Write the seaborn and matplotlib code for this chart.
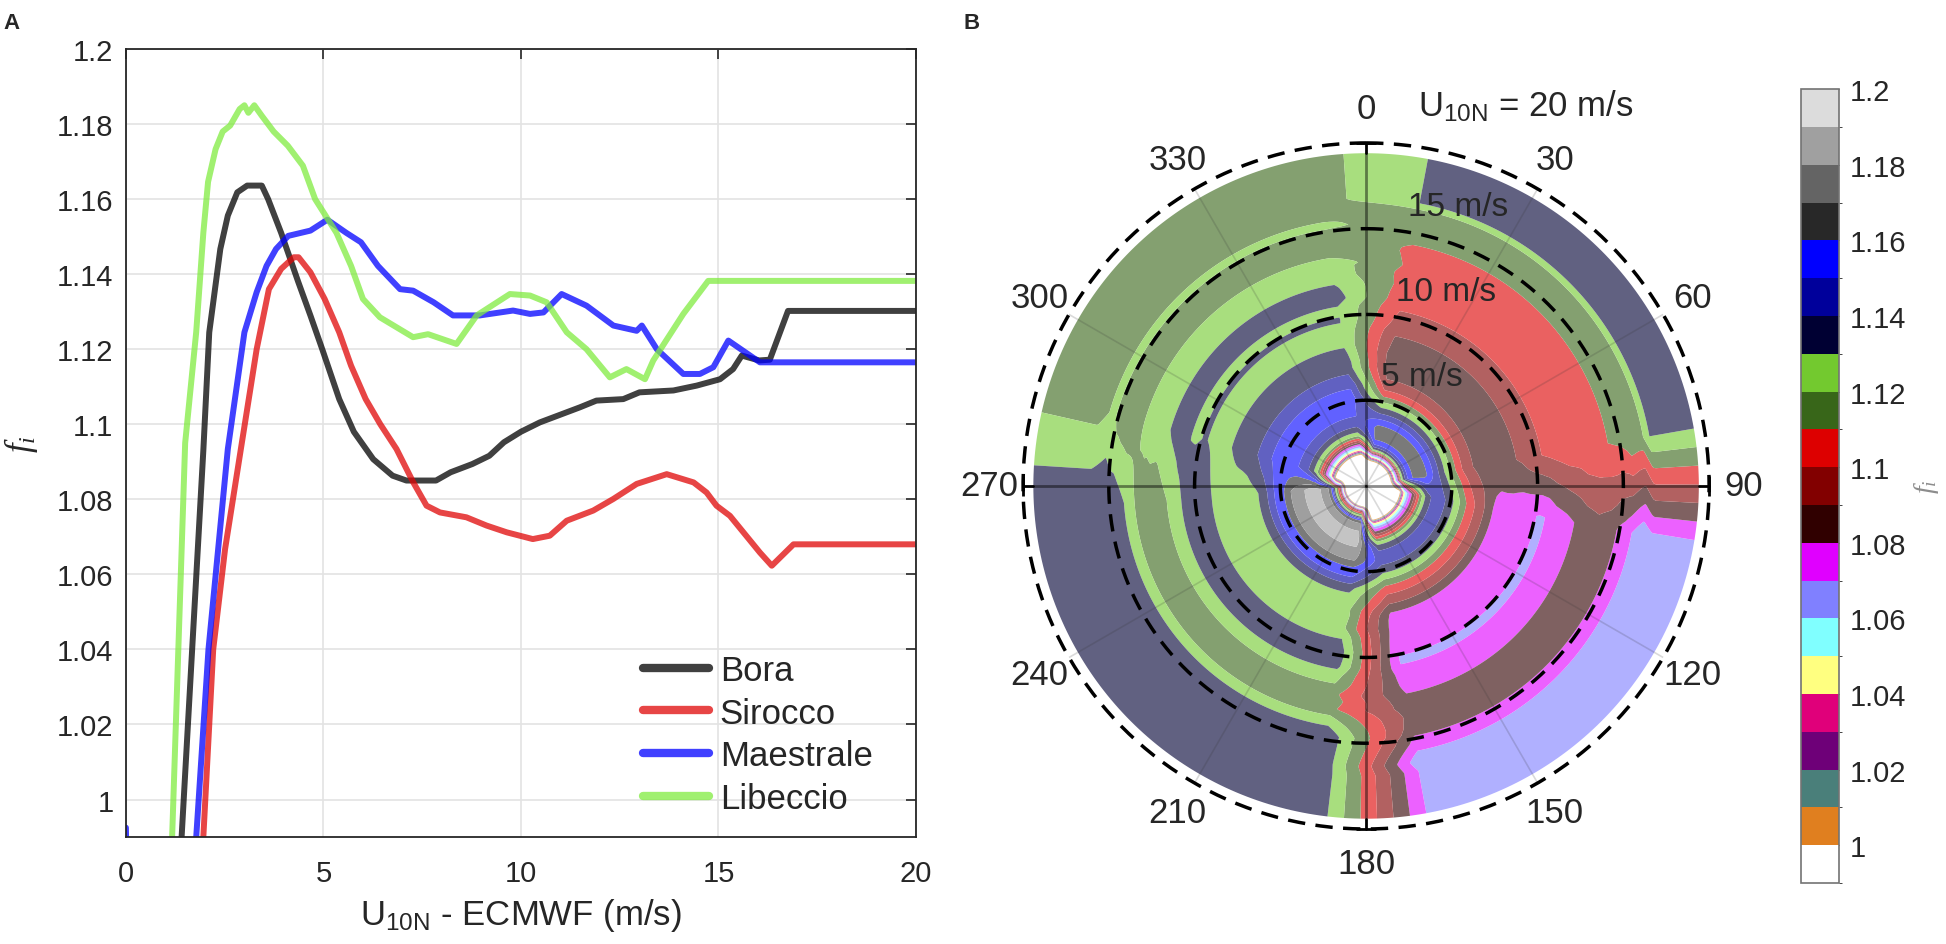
import numpy as np
import pandas as pd
import seaborn as sns
import matplotlib.pyplot as plt
from matplotlib.colors import ListedColormap, BoundaryNorm, to_rgb
from matplotlib.cm import ScalarMappable
from matplotlib.ticker import FuncFormatter

# ---- panel A: f_i against U10N for the four wind regimes
bora_u = [0.0, 1.41, 1.96, 2.11, 2.39, 2.58, 2.82, 3.07, 3.44, 3.6, 3.93, 4.36, 4.67, 4.97,
          5.4, 5.77, 6.26, 6.75, 7.1, 7.85, 8.22, 8.77, 9.2, 9.57, 10.0, 10.48, 11.49, 11.91,
          12.59, 13.0, 13.86, 14.45, 15.04, 15.37, 15.59, 16.03, 16.3, 16.76, 20.0]
bora_f = [0.94, 0.99, 1.093, 1.1245, 1.1467, 1.1556, 1.1618, 1.1636, 1.1636, 1.16, 1.151, 1.138,
          1.129, 1.12, 1.1067, 1.098, 1.0907, 1.0863, 1.085, 1.085, 1.0872, 1.0894, 1.0916,
          1.0952, 1.098, 1.1005, 1.1045, 1.1063, 1.1067, 1.1085, 1.109, 1.1103, 1.112, 1.1147,
          1.1183, 1.117, 1.1172, 1.1302, 1.1302]

sirocco_u = [0.0, 1.96, 2.21, 2.51, 2.91, 3.31, 3.62, 3.93, 4.25, 4.37, 4.67, 5.03, 5.4, 5.7,
             6.07, 6.44, 6.85, 7.27, 7.61, 7.95, 8.62, 9.13, 9.64, 10.3, 10.73, 11.16, 11.83,
             12.34, 12.93, 13.69, 14.37, 14.7, 14.95, 15.29, 16.05, 16.35, 16.9, 20.0]
sirocco_f = [0.93, 0.99, 1.04, 1.0667, 1.0934, 1.12, 1.136, 1.1414, 1.1445, 1.1445, 1.1405,
             1.1334, 1.1245, 1.1156, 1.1067, 1.1, 1.0934, 1.0846, 1.0783, 1.0765, 1.0752, 1.073,
             1.0712, 1.0694, 1.0703, 1.0743, 1.077, 1.0801, 1.0841, 1.0867, 1.0845, 1.0818,
             1.0783, 1.0756, 1.0658, 1.0623, 1.068, 1.068]

maestrale_u = [0.0, 0.1, 1.78, 2.09, 2.58, 3.0, 3.31, 3.56, 3.8, 4.11, 4.67, 5.1, 5.58, 5.95,
               6.38, 6.94, 7.27, 7.79, 8.28, 8.96, 9.8, 10.23, 10.57, 11.03, 11.66, 12.34, 12.93,
               13.06, 13.44, 14.11, 14.53, 14.87, 15.25, 16.05, 20.0]
maestrale_f = [0.9925, 0.93, 0.99, 1.04, 1.0934, 1.1245, 1.1352, 1.1422, 1.1467, 1.1502, 1.1516,
               1.1545, 1.151, 1.1485, 1.1422, 1.136, 1.1356, 1.1325, 1.129, 1.129, 1.1303, 1.1294,
               1.1298, 1.1347, 1.1316, 1.1263, 1.1249, 1.1263, 1.12, 1.1134, 1.1134, 1.1152,
               1.1223, 1.1165, 1.1165]

libeccio_u = [0.0, 1.17, 1.5, 1.78, 1.96, 2.08, 2.27, 2.45, 2.64, 2.88, 3.0, 3.1, 3.25, 3.44,
              3.74, 4.1, 4.48, 4.79, 5.33, 5.7, 6.0, 6.43, 7.27, 7.65, 8.37, 8.88, 9.13, 9.72,
              10.23, 10.65, 11.16, 11.66, 12.25, 12.67, 13.14, 13.35, 14.11, 14.74, 20.0]
libeccio_f = [0.94, 0.99, 1.095, 1.1246, 1.151, 1.1646, 1.1733, 1.178, 1.1796, 1.184, 1.185,
              1.183, 1.185, 1.1822, 1.178, 1.1742, 1.1689, 1.16, 1.151, 1.1422, 1.1334, 1.1285,
              1.1232, 1.124, 1.1214, 1.129, 1.1307, 1.1347, 1.1343, 1.1325, 1.1245, 1.12, 1.1125,
              1.1147, 1.112, 1.117, 1.1294, 1.1382, 1.1382]

winds = ["Bora", "Sirocco", "Maestrale", "Libeccio"]
curves = {"Bora": (bora_u, bora_f), "Sirocco": (sirocco_u, sirocco_f),
          "Maestrale": (maestrale_u, maestrale_f), "Libeccio": (libeccio_u, libeccio_f)}
line_colors = ["#000000", "#e00707", "#0000ff", "#80eb40"]

# ---- panel B: direction sectors of each regime (clockwise from north, degrees)
sector_winds = ["Bora", "Sirocco", "Libeccio", "Maestrale"]
sector_edges = [1, 90, 179, 276]
blend_half = 10
speed_rings = [5, 10, 15, 20]
dir_labels = list(range(0, 360, 30))

levels = np.round(np.arange(0.99, 1.2001, 0.01), 2)
level_colors = ['#ffffff', '#e07f1f', '#4a7f7a', '#6e0078', '#e0007a', '#ffff80', '#80ffff',
                '#8080ff', '#e000ff', '#300000', '#820000', '#dd0000', '#386619', '#73c92f',
                '#000033', '#00009b', '#0000ff', '#282828', '#646464', '#a0a0a0', '#dcdcdc']
fill_alpha = 0.62

sns.set_style("white")
plt.rcParams['font.family'] = ['Liberation Sans', 'DejaVu Sans']
plt.rcParams['mathtext.fontset'] = 'custom'
plt.rcParams['mathtext.rm'] = 'Liberation Sans'
plt.rcParams['mathtext.it'] = 'Liberation Serif:italic'

fig = plt.figure(figsize=(19.46, 9.45), dpi=100)

# ================= panel A
ax = fig.add_axes([0.0647, 0.1132, 0.406, 0.8339])
rows = []
for w in winds:
    u, f = curves[w]
    rows.append(pd.DataFrame({"U": u, "f": f, "wind": w}))
df = pd.concat(rows, ignore_index=True)

sns.lineplot(data=df, x="U", y="f", hue="wind", hue_order=winds, palette=line_colors,
             estimator=None, sort=False, lw=4.3, alpha=0.75, legend=False, ax=ax)

ax.set_xlim(0, 20)
ax.set_ylim(0.99, 1.2)
ax.set_xticks([0, 5, 10, 15, 20])
ax.set_yticks(np.round(np.arange(1.0, 1.2001, 0.02), 2))
ax.yaxis.set_major_formatter(FuncFormatter(lambda v, _: f"{v:g}"))
ax.grid(True, color="#e3e3e3", lw=1.2)
ax.tick_params(direction="in", length=7, top=True, right=True, labelsize=21,
               color="#262626", width=1.2)
ax.tick_params(axis="x", pad=16)
ax.tick_params(axis="y", pad=9)
for s in ax.spines.values():
    s.set_color("#262626")
    s.set_linewidth(1.3)
ax.set_xlabel(r"U$_{\mathrm{10N}}$ - ECMWF (m/s)", fontsize=25, labelpad=6)
ax.set_ylabel(r"$f_i$", fontsize=25, labelpad=12)

handles = ax.get_lines()[:len(winds)]
leg = ax.legend(handles, winds, loc="lower left", bbox_to_anchor=(0.655, 0.028),
                frameon=False, fontsize=25, handlelength=1.9, handletextpad=0.3,
                labelspacing=0.28, borderpad=0, borderaxespad=0)
for lh in leg.get_lines():
    lh.set_linewidth(6)

fig.text(0.002, 0.975, "A", fontsize=16, fontweight="bold", va="center")
fig.text(0.495, 0.975, "B", fontsize=16, fontweight="bold", va="center")

# ================= panel B
pax = fig.add_axes([0.5257, 0.1217, 0.3526, 0.726], projection="polar")
pax.set_theta_zero_location("N")
pax.set_theta_direction(-1)

theta_deg = np.arange(0, 361, 1.0)
radius = np.linspace(0, 19.4, 260)

def wrap(a):
    return (np.asarray(a) + 180) % 360 - 180

Z = np.zeros((len(theta_deg), len(radius)))
n = len(sector_edges)
for k, w in enumerate(sector_winds):
    start = sector_edges[k]
    end = sector_edges[(k + 1) % n]
    d_in = wrap(theta_deg - start)
    d_out = wrap(end - theta_deg)
    weight = np.clip(0.5 + d_in / (2 * blend_half), 0, 1) * np.clip(0.5 + d_out / (2 * blend_half), 0, 1)
    u, f = curves[w]
    Z += weight[:, None] * np.interp(radius, u, f)[None, :]

TH, RR = np.meshgrid(np.deg2rad(theta_deg), radius, indexing="ij")

# translucent look of the fill, pre-mixed with the white page so band edges stay clean
washed = [tuple(fill_alpha * np.array(to_rgb(c)) + (1 - fill_alpha)) for c in level_colors]
pax.contourf(TH, RR, Z, levels=levels, colors=washed, zorder=2, antialiased=True)

# faint direction grid and dark cross, seen through the fill
for a in dir_labels:
    if a % 90:
        pax.plot([np.deg2rad(a)] * 2, [0, 20], color="0.2", lw=1.2, alpha=0.18, zorder=3)
for a in [0, 90, 180, 270]:
    pax.plot([np.deg2rad(a)] * 2, [0, 19.4], color="black", lw=2, alpha=0.45, zorder=3)
    pax.plot([np.deg2rad(a)] * 2, [19.4, 20], color="black", lw=2, zorder=3, clip_on=False)
    pax.plot(np.deg2rad(a), 20, marker="_" if a in (0, 180) else "|", ms=14, mew=2,
             color="black", zorder=3, clip_on=False)

ring_theta = np.linspace(0, 2 * np.pi, 400)
for r in speed_rings:
    pax.plot(ring_theta, np.full_like(ring_theta, r), color="black", lw=2.5,
             dashes=(5, 3), zorder=4, clip_on=False)

pax.set_ylim(0, 20)
pax.set_xticks([])
pax.set_yticks([])
pax.grid(False)
pax.spines["polar"].set_visible(False)
pax.set_facecolor("none")

for a in dir_labels:
    pax.text(np.deg2rad(a), 22.0, str(a), fontsize=25, ha="center", va="center", clip_on=False)

for txt, x, y in [("5 m/s", 0.522, 0.659), ("10 m/s", 0.544, 0.784), ("15 m/s", 0.561, 0.908)]:
    pax.text(x, y, txt, transform=pax.transAxes, fontsize=24, ha="left", va="center", zorder=5)
pax.text(0.576, 1.055, r"U$_{\mathrm{10N}}$ = 20 m/s", transform=pax.transAxes, fontsize=25,
         ha="left", va="center", clip_on=False)

# ================= colour bar
cax = fig.add_axes([0.9255, 0.0646, 0.0195, 0.840])
cmap = ListedColormap(level_colors)
norm = BoundaryNorm(levels, cmap.N)
cb = fig.colorbar(ScalarMappable(norm=norm, cmap=cmap), cax=cax,
                  ticks=np.round(np.arange(1.0, 1.2001, 0.02), 2))
cb.ax.yaxis.set_major_formatter(FuncFormatter(lambda v, _: f"{v:g}"))
cb.ax.tick_params(direction="in", length=5, labelsize=21, pad=8)
cb.outline.set_edgecolor("0.45")
cb.outline.set_linewidth(1.2)
cb.set_label(r"$f_i$", fontsize=20, color="0.55", labelpad=4)

fig.savefig("out.png", dpi=100)
